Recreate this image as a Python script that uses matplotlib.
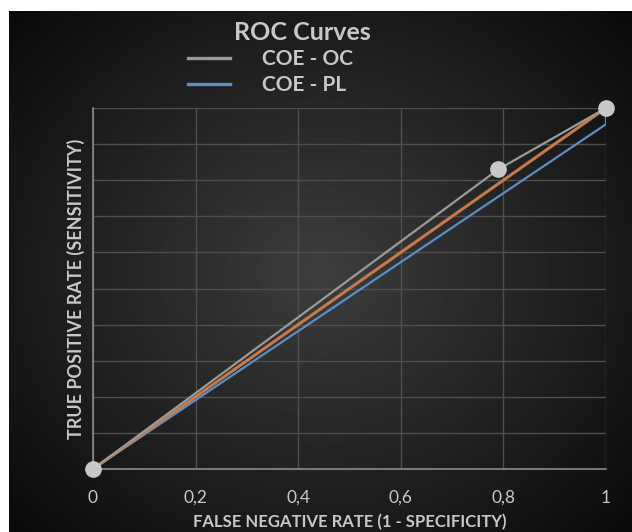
import matplotlib.pyplot as plt
import numpy as np
from matplotlib.ticker import FuncFormatter

# ----- data -----
fpr_oc = [0.0, 0.79, 1.0]
tpr_oc = [0.0, 0.83, 1.0]
fpr_pl = [0.0, 1.0, 1.0]
tpr_pl = [0.0, 0.955, 1.0]
fpr_ref = [0.0, 1.0]
tpr_ref = [0.0, 1.0]
x_ticks = [0, 0.2, 0.4, 0.6, 0.8, 1.0]

TEXT = "#c8c8c8"
plt.rcParams["font.family"] = ["Lato", "DejaVu Sans"]

W, H = 632, 532
fig = plt.figure(figsize=(W / 100, H / 100), dpi=100)
fig.patch.set_facecolor("white")

# dark radial background (leaves a thin white margin top/left, like the source)
bg = fig.add_axes([9 / W, 0, 1 - 9 / W, 1 - 11 / H])
yy, xx = np.mgrid[0:1:300j, 0:1:300j]
r = np.sqrt(((xx - 0.5) / 0.75) ** 2 + ((yy - 0.5) / 0.8) ** 2)
shade = np.clip(0.24 - 0.22 * r, 0.03, 1)
bg.imshow(shade, cmap="gray", vmin=0, vmax=1, extent=[0, 1, 0, 1], aspect="auto")
bg.set_axis_off()

ax = fig.add_axes([93 / W, 1 - 469 / H, (606 - 93) / W, (469 - 108) / H])
ax.patch.set_alpha(0)

ax.plot(fpr_ref, tpr_ref, color="#c47a4c", lw=2.2, zorder=3)
ax.plot(fpr_pl, tpr_pl, color="#5b8fc4", lw=1.6, zorder=2, label="COE - PL")
ax.plot(fpr_oc, tpr_oc, color="#9a9a9a", lw=1.6, zorder=4, label="COE - OC",
        marker="o", markersize=11, markerfacecolor="#c8c8c8",
        markeredgecolor="#c8c8c8", clip_on=False)

ax.set_xlim(0, 1)
ax.set_ylim(0, 1)
ax.set_xticks(x_ticks)
ax.set_yticks(np.arange(0, 1.01, 0.1))
ax.xaxis.set_major_formatter(
    FuncFormatter(lambda v, _: "0" if v == 0 else ("1" if v == 1 else f"{v:.1f}".replace(".", ","))))
ax.set_yticklabels([])
ax.tick_params(axis="both", length=0, colors=TEXT, labelsize=12.5)
ax.tick_params(axis="x", pad=15)
ax.tick_params(axis="y", pad=0)
ax.grid(True, color="#4e4e4e", lw=1)
ax.set_axisbelow(True)
for side in ["top", "right"]:
    ax.spines[side].set_visible(False)
for side in ["left", "bottom"]:
    ax.spines[side].set_color("#8a8a8a")
    ax.spines[side].set_linewidth(1.2)

ax.set_xlabel("FALSE NEGATIVE RATE (1 - SPECIFICITY)", color=TEXT,
              fontsize=12, fontweight="bold", labelpad=6)
ax.set_ylabel("TRUE POSITIVE RATE (SENSITIVITY)", color=TEXT,
              fontsize=13, fontweight="bold", labelpad=6)

fig.text(302 / W, 1 - 32 / H, "ROC Curves", color=TEXT, fontsize=18,
         fontweight="bold", ha="center", va="center")

handles, labels = ax.get_legend_handles_labels()
leg = fig.legend(handles[::-1], labels[::-1], loc="upper left",
                 bbox_to_anchor=(188 / W, 1 - 49 / H), frameon=False,
                 fontsize=15, handlelength=2.0, labelspacing=0.3,
                 borderpad=0, borderaxespad=0, handletextpad=1.55)
for t in leg.get_texts():
    t.set_color(TEXT)
    t.set_fontweight("bold")
for h in leg.legend_handles:
    h.set_marker("")
    h.set_linewidth(2.4)

fig.savefig("out.png", dpi=100)
